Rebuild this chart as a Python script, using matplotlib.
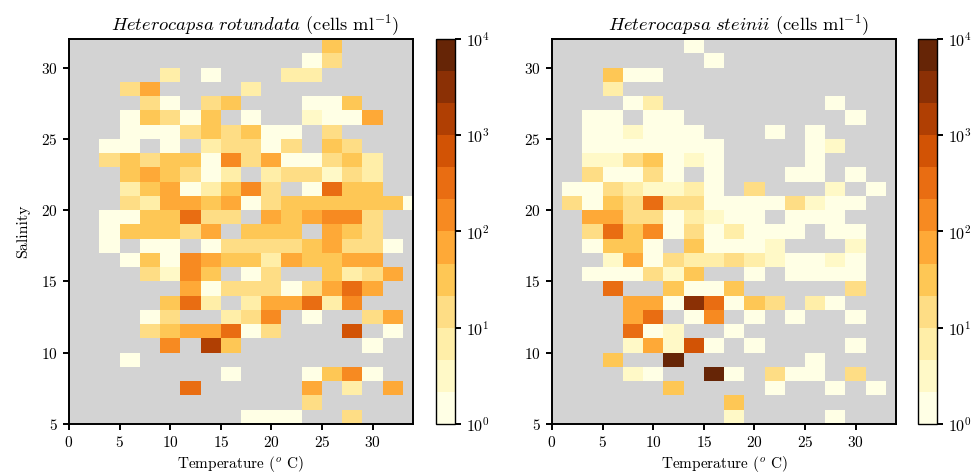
import numpy as np
import matplotlib
matplotlib.use("Agg")
import matplotlib.pyplot as plt
from matplotlib.colors import LogNorm

plt.rcParams['font.family'] = 'serif'
plt.rcParams['font.serif'] = ['cmr10', 'DejaVu Serif']
plt.rcParams['mathtext.fontset'] = 'cm'
plt.rcParams['axes.formatter.use_mathtext'] = True

_ = np.nan

# Temperature bin centres (deg C) and salinity bin lower edges (rows listed top -> bottom)
temperature_bins = [0, 2, 4, 6, 8, 10, 12, 14, 16, 18, 20, 22, 24, 26, 28, 30, 32, 34]
salinity_bins = [31, 30, 29, 28, 27, 26, 25, 24, 23, 22, 21, 20, 19, 18,
                 17, 16, 15, 14, 13, 12, 11, 10, 9, 8, 7, 6, 5]

# Heterocapsa rotundata, cells ml^-1 (rows: salinity 31 .. 5; cols: temperature bins)
rotundata = [
    [_, _, _, _, _, _, _, _, _, _, _, _, _, 30, _, _, _, _],
    [_, _, _, _, _, _, _, _, _, _, _, _, 1.5, 15, _, _, _, _],
    [_, _, _, _, _, 7, _, 1.5, _, _, _, 7, 7, _, _, _, _, _],
    [_, _, _, 15, 70, _, _, _, _, 7, _, _, _, _, _, _, _, _],
    [_, _, _, _, 15, 1.5, _, 15, 30, _, _, _, 1.5, 1.5, 30, _, _, _],
    [_, _, _, 1.5, 30, 15, 1.5, 30, _, 1.5, _, _, 3, 1.5, 1.5, 70, _, _],
    [_, _, _, 1.5, 1.5, 1.5, 15, 30, 15, 30, 1.5, 1.5, _, 15, _, _, _, _],
    [_, _, 1.5, 1.5, _, 1.5, _, 7, 15, 15, 1.5, 15, _, 30, 15, _, _, _],
    [_, _, 15, 30, 15, 30, 30, 1.5, 150, 15, 70, 1.5, 1.5, 15, 30, 7, _, _],
    [_, _, _, 30, 70, 30, 15, 1.5, 7, _, 7, 15, 15, 3, 15, 7, _, _],
    [_, _, _, 7, 30, 70, 1.5, 7, 30, 150, 15, _, 1.5, 300, 30, 30, _, _],
    [_, _, _, 15, 7, 70, 70, 30, 70, 1.5, 15, 30, 30, 30, 30, 30, 30, 1.5],
    [_, _, 1.5, 1.5, 30, 30, 300, 15, 15, _, 70, 30, 70, 150, 150, 15, _, _],
    [_, _, 1.5, 30, 30, 30, 15, 70, _, 30, 30, 30, _, 70, 30, 15, _, _],
    [_, _, 1.5, _, 1.5, 1.5, _, 1.5, 15, 15, 15, 15, 30, 70, 15, 15, 1.5, _],
    [_, _, _, 1.5, 30, 1.5, 150, 70, 30, 30, 7, 70, 30, 30, 70, 70, _, _],
    [_, _, _, _, 15, 3, 150, 30, _, 1.5, 15, _, _, 30, 7, 15, 70, _],
    [_, _, _, _, _, _, 70, 1.5, 15, 15, 15, 1.5, 15, 70, 300, 70, _, _],
    [_, _, _, _, _, 30, 300, 7, _, 7, 70, 70, 300, 7, 150, _, _, _],
    [_, _, _, _, 1.5, 15, _, _, 7, 15, 150, _, 1.5, _, _, 15, 70, _],
    [_, _, _, _, 15, 30, 70, 70, 300, 1.5, 15, _, _, _, 700, _, 1.5, _],
    [_, _, _, _, _, 150, _, 1500, 30, _, _, _, _, _, _, 1.5, _, _],
    [_, _, _, 1.5, _, _, _, _, _, _, _, _, _, _, _, _, _, _],
    [_, _, _, _, _, _, _, _, 1.5, _, _, _, 1.5, 30, 150, 1.5, _, _],
    [_, _, _, _, _, _, 300, _, _, _, _, _, 70, _, 7, _, 70, _],
    [_, _, _, _, _, _, _, _, _, _, _, _, 15, _, _, _, _, _],
    [_, _, _, _, _, _, _, _, _, 1.5, 1.5, 1.5, _, _, 15, _, _, _],
]

# Heterocapsa steinii, cells ml^-1
steinii = [
    [_, _, _, _, _, _, _, 1.5, _, _, _, _, _, _, _, _, _, _],
    [_, _, _, _, _, _, _, _, 1.5, _, _, _, _, _, _, _, _, _],
    [_, _, _, 30, 1.5, 1.5, _, _, _, _, _, _, _, _, _, _, _, _],
    [_, _, _, 7, _, _, _, _, _, _, _, _, _, _, _, _, _, _],
    [_, _, _, _, 1.5, 7, _, _, _, _, _, _, _, _, 1.5, _, _, _],
    [_, _, 1.5, 1.5, _, 1.5, 1.5, _, _, _, _, _, _, _, _, 1.5, _, _],
    [_, _, 1.5, 1.5, 3, 1.5, 1.5, 1.5, _, _, _, 1.5, _, 1.5, _, _, _, _],
    [_, _, 1.5, 1.5, 1.5, 1.5, 1.5, 1.5, 1.5, _, _, _, _, 1.5, 3, _, _, _],
    [_, _, 3, 3, 15, 30, 1.5, 3, 1.5, _, _, _, _, 1.5, _, _, _, _],
    [_, _, 15, 1.5, 1.5, 15, 1.5, _, 1.5, _, _, _, 1.5, 1.5, _, 1.5, _, _],
    [_, 1.5, 1.5, 15, 7, 3, 3, 7, 1.5, _, 15, _, _, _, 3, _, 1.5, _],
    [_, 15, 1.5, 30, 15, 300, 15, 15, 1.5, 1.5, 1.5, 1.5, 15, 3, 1.5, 1.5, _, _],
    [_, _, 70, 70, 15, 15, 1.5, 7, 3, 1.5, 1.5, _, 1.5, 1.5, 1.5, _, _, _],
    [_, _, 15, 300, 30, 150, 1.5, 15, 1.5, 7, 1.5, 1.5, 1.5, _, 1.5, 1.5, _, _],
    [_, _, 1.5, 30, 30, 1.5, _, 30, 1.5, 1.5, 1.5, 3, _, _, _, 3, _, _],
    [_, _, _, 3, 70, 1.5, 15, 7, 7, 15, 7, 3, 1.5, 1.5, 3, 1.5, _, _],
    [_, _, 1.5, 1.5, 1.5, 15, 3, 30, _, _, 1.5, _, 1.5, 1.5, 1.5, 1.5, _, _],
    [_, _, _, 300, _, _, 30, 1.5, 1.5, 30, _, _, _, _, _, 15, _, _],
    [_, _, _, _, 70, 70, 1.5, 3000, 300, 1.5, 30, 15, _, 7, 1.5, _, _, _],
    [_, _, _, _, 70, 300, _, 1.5, 150, _, 1.5, _, 1.5, _, _, 1.5, _, _],
    [_, _, _, _, 300, 1.5, 3, _, _, 1.5, _, _, _, _, _, _, _, _],
    [_, _, _, _, 3, 70, 3, 700, 1.5, _, 1.5, _, _, _, _, 1.5, _, _],
    [_, _, _, 30, _, _, 7000, _, _, _, _, _, _, 1.5, _, _, _, _],
    [_, _, _, _, 3, 1.5, _, _, 7000, 1.5, _, 15, 1.5, 1.5, _, 15, _, _],
    [_, _, _, _, _, _, 30, _, _, _, _, 1.5, _, _, 1.5, _, 1.5, _],
    [_, _, _, _, _, _, _, _, _, 30, _, _, _, _, _, _, _, _],
    [_, _, _, _, _, _, _, _, _, 3, _, _, _, _, 1.5, _, _, _],
]

species = [r"$Heterocapsa\ rotundata$", r"$Heterocapsa\ steinii$"]
panels = [rotundata, steinii]

t = np.array(temperature_bins, dtype=float)
s = np.array(salinity_bins, dtype=float)[::-1]
t_edges = np.concatenate([t - 1, [t[-1] + 1]])
s_edges = np.concatenate([s, [s[-1] + 1]])

cmap = plt.get_cmap('YlOrBr', 12)
norm = LogNorm(vmin=1, vmax=1e4)

fig = plt.figure(figsize=(9.76, 4.75), dpi=100)
ax_pos = [[0.0707, 0.1074, 0.3525, 0.8105], [0.5656, 0.1074, 0.3525, 0.8105]]
cb_pos = [[0.4467, 0.1074, 0.0195, 0.8105], [0.9406, 0.1074, 0.0195, 0.8105]]

for i in range(2):
    ax = fig.add_axes(ax_pos[i])
    cax = fig.add_axes(cb_pos[i])
    data = np.ma.masked_invalid(np.array(panels[i], dtype=float)[::-1])
    ax.set_facecolor('#d3d3d3')
    mesh = ax.pcolormesh(t_edges, s_edges, data, cmap=cmap, norm=norm)
    ax.set_xlim(0, 34)
    ax.set_ylim(5, 32)
    ax.set_xticks([0, 5, 10, 15, 20, 25, 30])
    ax.set_yticks([5, 10, 15, 20, 25, 30])
    ax.tick_params(labelsize=11, width=1.4, length=4.5)
    for sp in ax.spines.values():
        sp.set_linewidth(1.4)
    ax.set_title(species[i] + r" (cells ml$^{-1}$)", fontsize=13.3, pad=6, x=0.542)
    ax.set_xlabel(r"Temperature ($^o$ C)", fontsize=11, labelpad=3)
    if i == 0:
        ax.set_ylabel("Salinity", fontsize=11.5, labelpad=8)
    cb = fig.colorbar(mesh, cax=cax)
    cb.outline.set_linewidth(1.0)
    cb.ax.tick_params(labelsize=11.5, width=1.4, length=4.5)
    cb.ax.minorticks_off()

fig.savefig("out.png", dpi=100)
